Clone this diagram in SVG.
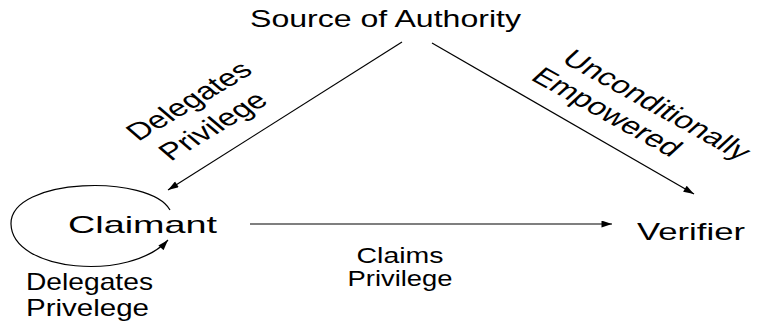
<svg xmlns="http://www.w3.org/2000/svg" width="757" height="325" viewBox="0 0 757 325">
<style>
text{font-family:"Liberation Sans",Arial,sans-serif;font-size:24px;fill:#000}
.c{stroke:#000;stroke-width:1.2;fill:none}
.s{font-size:22px}
</style>
<defs>
<marker id="ah" viewBox="0 0 12 8" refX="12" refY="4" markerWidth="12" markerHeight="7" markerUnits="userSpaceOnUse" orient="auto">
<path d="M0,0 L12,4 L0,8 Z" fill="#000"/>
</marker>
</defs>
<rect width="757" height="325" fill="#fff"/>
<g id="connectors">
<line class="c" x1="402" y1="42" x2="168" y2="190" marker-end="url(#ah)"/>
<line class="c" x1="432" y1="43" x2="694" y2="194" marker-end="url(#ah)"/>
<line class="c" x1="250" y1="224" x2="612" y2="224" marker-end="url(#ah)"/>
<path class="c" d="M170,210 C150,174 10,177 11,224 C12,272 130,282 168,240" marker-end="url(#ah)"/>
</g>
<g id="source"><text x="250" y="27" textLength="271" lengthAdjust="spacingAndGlyphs">Source of Authority</text></g>
<g id="claimant"><text x="68" y="233" font-size="25" textLength="149" lengthAdjust="spacingAndGlyphs">Claimant</text></g>
<g id="verifier"><text x="637" y="240" textLength="108" lengthAdjust="spacingAndGlyphs">Verifier</text></g>
<g id="label-claims">
<text class="s" x="400" y="263" text-anchor="middle" textLength="87" lengthAdjust="spacingAndGlyphs">Claims</text>
<text class="s" x="400" y="286" text-anchor="middle" textLength="105" lengthAdjust="spacingAndGlyphs">Privilege</text>
</g>
<g id="label-self">
<text x="26" y="290" textLength="127" lengthAdjust="spacingAndGlyphs">Delegates</text>
<text x="26" y="316" textLength="123" lengthAdjust="spacingAndGlyphs">Privelege</text>
</g>
<g id="label-delegates">
<g transform="translate(189,101) scale(1.4,1) rotate(-40)"><text x="0" y="8" text-anchor="middle">Delegates</text></g>
<g transform="translate(213,126) scale(1.4,1) rotate(-40)"><text x="0" y="8" text-anchor="middle">Privilege</text></g>
</g>
<g id="label-uncond">
<g transform="translate(657,105) scale(1.4,1) rotate(38)"><text x="0" y="8" text-anchor="middle">Unconditionally</text></g>
<g transform="translate(607,112) scale(1.4,1) rotate(38)"><text x="0" y="8" text-anchor="middle">Empowered</text></g>
</g>
</svg>
